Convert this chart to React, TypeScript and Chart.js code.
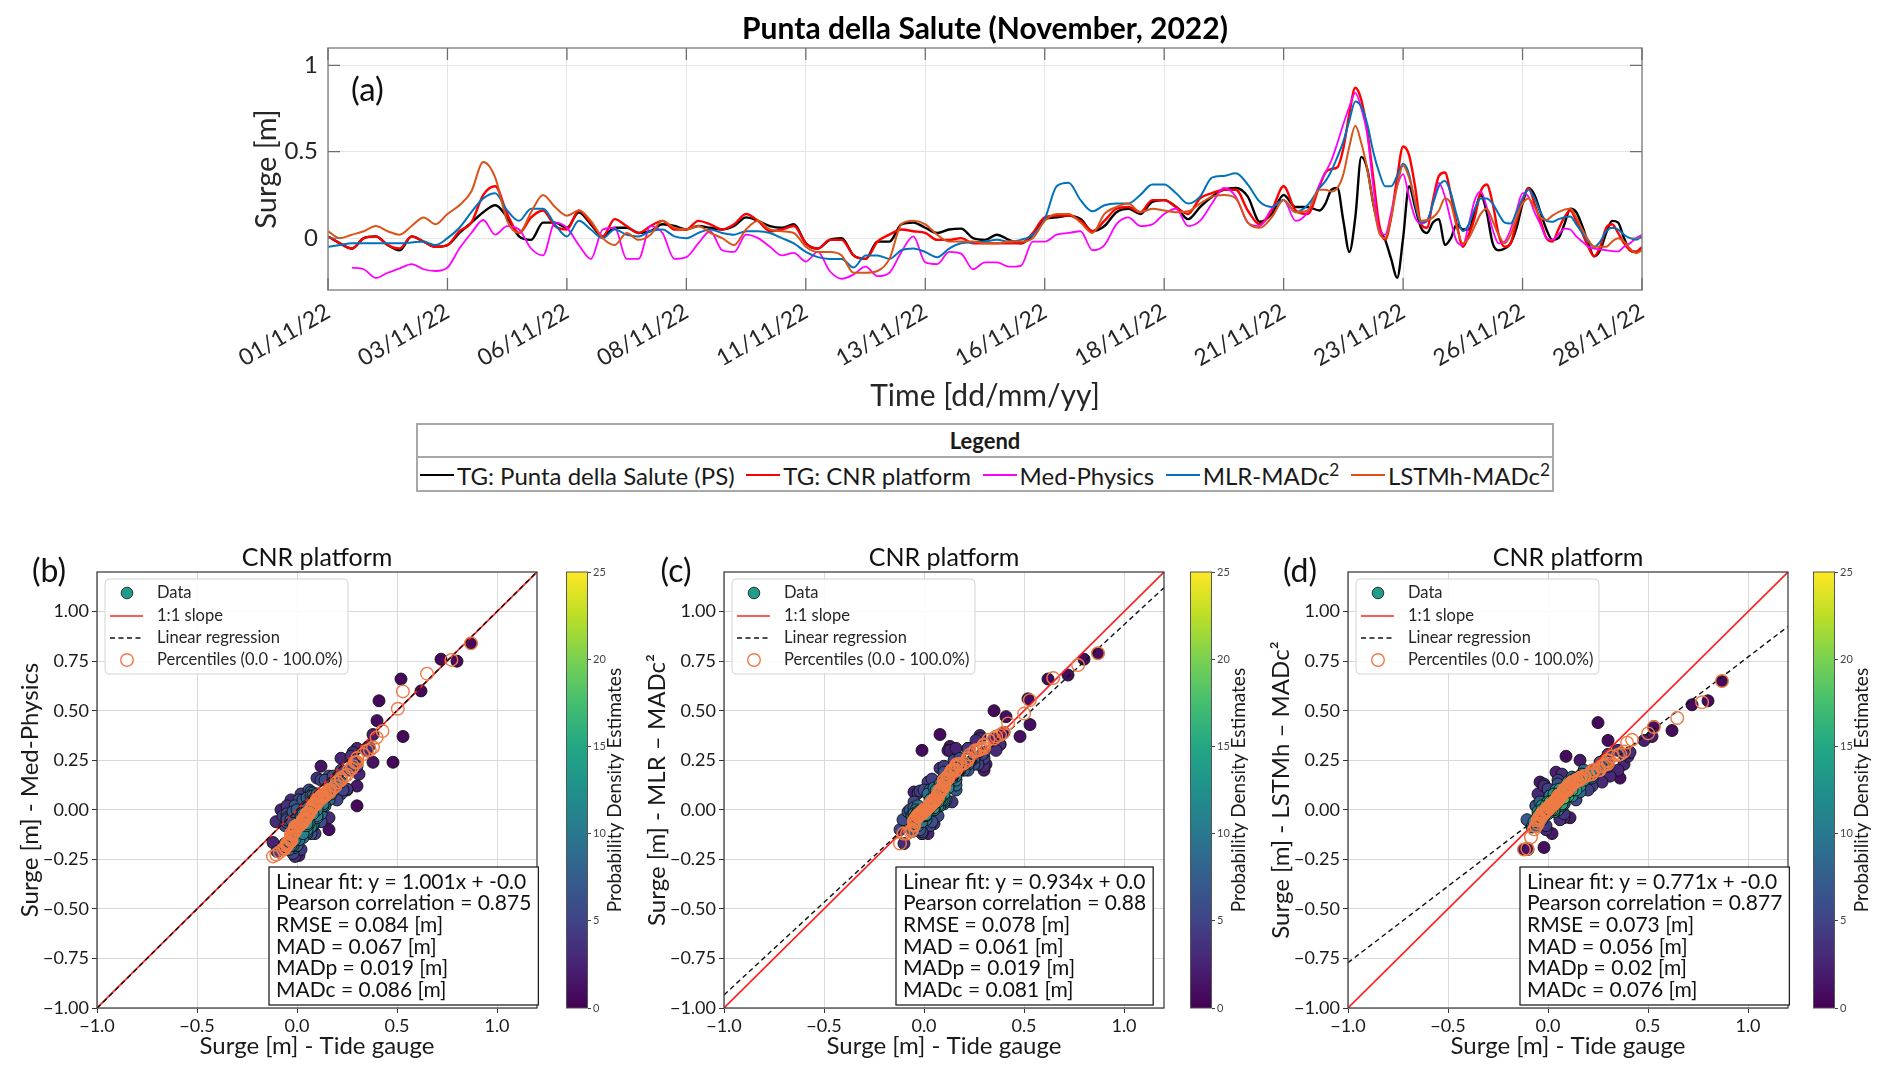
import React, { useEffect, useRef } from "react";
import { Chart, registerables } from "chart.js";

Chart.register(...registerables);

const FONT = "Lato, 'Noto Sans', 'DejaVu Sans', sans-serif";
const TEXT = "#1f1f1f";

// ---------------- data ----------------
// time axis: days since 01/11/2022 00:00 (6-hourly up to day 20.5, 3-hourly afterwards)
const TIME_COARSE = Array.from({ length: 83 }, (_, i) => i * 0.25);
const TIME_FINE = Array.from({ length: 55 }, (_, i) => 20.75 + i * 0.125);
const TIME = [...TIME_COARSE, ...TIME_FINE];

const TG_PS: (number | null)[] = [
  0.01, -0.03, -0.06, 0.0, 0.01, -0.04, -0.07, 0.01, -0.02, -0.05, -0.04, 0.03, 0.09, 0.15, 0.19, 0.12, 0.01, -0.01, 0.09, 0.09,
  0.06, 0.15, 0.08, 0.01, 0.06, 0.06, 0.03, 0.04, 0.08, 0.07, 0.05, 0.07, 0.06, 0.05, 0.07, 0.12, 0.1, 0.07,
  0.06, 0.08, -0.03, -0.06, -0.01, 0.0, -0.1, -0.12, -0.02, -0.02, 0.08, 0.09, 0.06, 0.03, 0.05, 0.055, 0.0, -0.01, 0.02, -0.01,
  -0.03, 0.02, 0.11, 0.12, 0.13, 0.11, 0.04, 0.07, 0.15, 0.17, 0.14, 0.21, 0.22, 0.18, 0.11, 0.18, 0.24,
  0.28, 0.29, 0.24, 0.095, 0.14, 0.25, 0.18, 0.18,
  0.16, 0.2, 0.28, 0.29, 0.1, -0.08, 0.12, 0.47, 0.4, 0.2, 0.06, -0.01, -0.12, -0.23, 0.0, 0.3, 0.18, 0.06, 0.03, 0.09,
  0.11, -0.04, 0.0, 0.08, 0.05, 0.05, 0.15, 0.25, 0.15, -0.03, -0.07, -0.06, -0.03, 0.06, 0.2, 0.29, 0.25, 0.15, 0.05, -0.01,
  0.0, 0.08, 0.17, 0.15, 0.07, -0.03, -0.105, -0.07, 0.03, 0.1, 0.09, 0.0, -0.07, -0.08, -0.06,
];

const TG_CNR: (number | null)[] = [
  0.01, -0.03, -0.06, 0.0, 0.01, -0.04, -0.06, 0.01, -0.02, -0.05, -0.04, 0.04, 0.09, 0.25, 0.3, 0.14, 0.03, 0.12, 0.16, 0.07,
  0.05, 0.16, 0.09, 0.01, 0.11, 0.07, 0.03, 0.07, 0.1, 0.05, 0.05, 0.1, 0.08, 0.05, 0.08, 0.14, 0.1, 0.04,
  0.05, 0.07, -0.03, -0.06, -0.01, -0.01, -0.1, -0.12, -0.02, 0.02, 0.05, 0.04, 0.03, -0.01, -0.01, 0.0, -0.03, -0.03, -0.03, -0.03,
  -0.03, 0.03, 0.12, 0.13, 0.13, 0.1, 0.04, 0.1, 0.17, 0.18, 0.15, 0.22, 0.22, 0.18, 0.14, 0.23, 0.26,
  0.28, 0.28, 0.16, 0.08, 0.16, 0.3, 0.16, 0.14,
  0.3, 0.38, 0.4, 0.41, 0.52, 0.72, 0.87, 0.8, 0.62, 0.35, 0.08, -0.01, 0.12, 0.35, 0.53, 0.48, 0.3, 0.08, 0.06, 0.22,
  0.36, 0.38, 0.25, 0.08, -0.05, 0.02, 0.12, 0.27, 0.31, 0.2, 0.02, -0.05, -0.03, 0.1, 0.22, 0.29, 0.2, 0.1, 0.0, -0.02,
  0.05, 0.12, 0.16, 0.1, 0.03, -0.05, -0.105, -0.05, 0.06, 0.08, 0.03, -0.03, -0.07, -0.08, -0.05,
];

const MED_PHYSICS: (number | null)[] = [
  null, null, -0.17, -0.18, -0.23, -0.2, -0.175, -0.15, -0.18, -0.19, -0.17, -0.06, 0.03, 0.105, 0.02, 0.07, 0.05, -0.06, -0.1, 0.09,
  0.06, -0.04, -0.12, 0.05, 0.06, -0.12, -0.12, 0.07, 0.03, -0.12, -0.11, -0.03, 0.04, -0.07, -0.08, 0.02, 0.0, -0.05,
  -0.1, -0.085, -0.135, -0.08, -0.19, -0.235, -0.21, -0.165, -0.22, -0.2, -0.08, 0.01, -0.14, -0.15, -0.08, -0.09, -0.18, -0.14, -0.14, -0.165,
  -0.16, -0.02, -0.02, 0.02, 0.03, 0.04, -0.07, -0.04, 0.08, 0.12, 0.07, 0.08, 0.14, 0.17, 0.07, 0.1, 0.2,
  0.29, 0.24, 0.09, 0.07, 0.17, 0.22, 0.1, 0.15,
  0.31, 0.38, 0.45, 0.55, 0.66, 0.76, 0.84, 0.75, 0.6, 0.3, 0.05, 0.02, 0.15, 0.3, 0.37, 0.24, 0.12, 0.085, 0.1, 0.2,
  0.32, 0.24, 0.1, -0.02, -0.04, 0.08, 0.22, 0.27, 0.18, 0.05, -0.03, -0.02, 0.05, 0.16, 0.26, 0.24, 0.15, 0.08, 0.0, -0.01,
  0.02, 0.055, 0.05, 0.01, -0.02, -0.05, -0.06, -0.065, -0.07, -0.075, -0.077, -0.05, -0.03, 0.0, 0.02,
];

const MLR_MADC2: (number | null)[] = [
  -0.05, -0.04, -0.03, -0.03, -0.03, -0.03, -0.03, -0.025, -0.02, -0.04, 0.0, 0.06, 0.15, 0.23, 0.26, 0.16, 0.1, 0.17, 0.17, 0.08,
  0.01, 0.1, 0.05, 0.0, 0.05, 0.02, 0.01, 0.04, 0.05, 0.01, 0.0, 0.03, 0.05, 0.03, 0.02, 0.04, 0.04, 0.03,
  0.0, -0.03, -0.08, -0.11, -0.12, -0.12, -0.17, -0.1, -0.1, -0.12, -0.07, -0.06, -0.08, -0.11, -0.06, -0.03, -0.025, -0.02, -0.01, -0.02,
  -0.01, 0.02, 0.11, 0.3, 0.32, 0.22, 0.155, 0.19, 0.2, 0.2, 0.25, 0.31, 0.31, 0.26, 0.2, 0.24, 0.35,
  0.36, 0.375, 0.31, 0.21, 0.18, 0.22, 0.15, 0.19,
  0.29, 0.33, 0.39, 0.47, 0.56, 0.68, 0.79, 0.76, 0.66, 0.5, 0.38, 0.3, 0.3, 0.36, 0.43, 0.37, 0.2, 0.09, 0.1, 0.2,
  0.3, 0.33, 0.26, 0.13, 0.04, 0.08, 0.17, 0.23, 0.23, 0.2, 0.14, 0.09, 0.085, 0.15, 0.23, 0.28, 0.23, 0.15, 0.1, 0.095,
  0.11, 0.12, 0.125, 0.08, 0.03, -0.02, -0.05, -0.02, 0.04, 0.06, 0.05, 0.02, 0.0, -0.01, 0.01,
];

const LSTMH_MADC2: (number | null)[] = [
  0.04, 0.0, 0.02, 0.04, 0.07, 0.04, 0.02, 0.07, 0.12, 0.08, 0.14, 0.19, 0.27, 0.44, 0.35, 0.1, 0.03, 0.15, 0.25, 0.18,
  0.13, 0.16, 0.1, 0.0, -0.04, 0.03, -0.01, 0.02, 0.1, 0.06, 0.05, 0.07, 0.03, 0.0, -0.04, 0.05, 0.1, 0.05,
  0.04, 0.03, -0.05, -0.08, -0.08, -0.1, -0.2, -0.2, -0.19, -0.12, 0.08, 0.1, 0.08, 0.02, -0.02, -0.02, -0.02, -0.03, -0.03, -0.02,
  -0.02, 0.0, 0.1, 0.14, 0.14, 0.09, 0.03, 0.14, 0.18, 0.2, 0.15, 0.17, 0.16, 0.15, 0.155, 0.2, 0.24,
  0.25, 0.23, 0.09, 0.06, 0.12, 0.22, 0.15, 0.16,
  0.28, 0.28, 0.27, 0.29, 0.37, 0.53, 0.65, 0.55, 0.4, 0.2, 0.03, 0.0, 0.12, 0.3, 0.42, 0.35, 0.22, 0.1, 0.105, 0.12,
  0.16, 0.23, 0.2, 0.06, -0.03, 0.0, 0.07, 0.14, 0.17, 0.1, 0.02, -0.03, 0.02, 0.12, 0.2, 0.23, 0.18, 0.12, 0.105, 0.13,
  0.15, 0.165, 0.17, 0.12, 0.05, -0.01, -0.05, -0.05, -0.05, -0.02, 0.0, -0.02, -0.06, -0.087, -0.07,
];

const SERIES_LABELS = ["TG: Punta della Salute (PS)", "TG: CNR platform", "Med-Physics", "MLR-MADc", "LSTMh-MADc"];
const SERIES_SUPS = ["", "", "", "2", "2"];
const SERIES_COLORS = ["#000000", "#ff0000", "#ff00ff", "#0072bd", "#d95319"];

const X_TICK_POS = [0, 2.5, 5, 7.5, 10, 12.5, 15, 17.5, 20, 22.5, 25, 27.5];
const X_TICK_LABELS = ["01/11/22", "03/11/22", "06/11/22", "08/11/22", "11/11/22", "13/11/22", "16/11/22", "18/11/22", "21/11/22", "23/11/22", "26/11/22", "28/11/22"];
const Y_TICKS_A = [0, 0.5, 1];

// scatter panels
const PANEL_LETTERS = ["(b)", "(c)", "(d)"];
const MODEL_SERIES = [MED_PHYSICS, MLR_MADC2, LSTMH_MADC2];
const Y_TITLES = ["Surge [m] - Med-Physics", "Surge [m] - MLR \u2013 MADc\u00b2", "Surge [m] - LSTMh \u2013 MADc\u00b2"];
const SLOPES = [1.001, 0.934, 0.771];
const INTERCEPTS = [-0.0, 0.0, -0.0];
const INTERCEPT_TXT = ["-0.0", "0.0", "-0.0"];
const PEARSON = ["0.875", "0.88", "0.877"];
const RMSE = ["0.084", "0.078", "0.073"];
const MAD = ["0.067", "0.061", "0.056"];
const MADP = ["0.019", "0.019", "0.02"];
const MADC = ["0.086", "0.081", "0.076"];
const SC_X_TICKS = [-1, -0.5, 0, 0.5, 1];
const SC_Y_TICKS = [-1, -0.75, -0.5, -0.25, 0, 0.25, 0.5, 0.75, 1];
const CB_TICKS = [0, 5, 10, 15, 20, 25];
const PERCENTILE_LEVELS = Array.from({ length: 101 }, (_, i) => i);
const SC_LEGEND = ["Data", "1:1 slope", "Linear regression", "Percentiles (0.0 - 100.0%)"];

// ---------------- layout constants ----------------
const AX_MIN = -1;
const AX_MAX = 1.2;
const CB_MIN = 0;
const CB_MAX = 25;
const SC_LEFT = [97, 724, 1348];
const CB_LEFT = [566, 1190, 1813];

// ---------------- helpers ----------------
const VIRIDIS = [
  [68, 1, 84], [72, 35, 116], [64, 67, 135], [52, 94, 141], [41, 120, 142], [32, 144, 140],
  [34, 167, 132], [68, 190, 112], [121, 209, 81], [189, 222, 38], [253, 231, 37],
];
function viridis(t: number): string {
  const v = Math.max(0, Math.min(1, t)) * (VIRIDIS.length - 1);
  const i = Math.min(VIRIDIS.length - 2, Math.floor(v));
  const f = v - i;
  const a = VIRIDIS[i], b = VIRIDIS[i + 1];
  const c = a.map((x, k) => Math.round(x + (b[k] - x) * f));
  return `rgb(${c[0]},${c[1]},${c[2]})`;
}
function fmt(v: number, d: number): string {
  return (v < 0 ? "\u2212" : "") + Math.abs(v).toFixed(d);
}
function kde(xs: number[], ys: number[]): number[] {
  const n = xs.length;
  const mx = xs.reduce((s, v) => s + v, 0) / n;
  const my = ys.reduce((s, v) => s + v, 0) / n;
  let sxx = 0, syy = 0, sxy = 0;
  for (let i = 0; i < n; i++) {
    sxx += (xs[i] - mx) ** 2;
    syy += (ys[i] - my) ** 2;
    sxy += (xs[i] - mx) * (ys[i] - my);
  }
  sxx /= n - 1; syy /= n - 1; sxy /= n - 1;
  const f2 = Math.pow(n, -2 / 6);
  const a = sxx * f2, b = sxy * f2, d = syy * f2;
  const det = a * d - b * b;
  const ia = d / det, ib = -b / det, id = a / det;
  const norm = 1 / (2 * Math.PI * Math.sqrt(det) * n);
  return xs.map((x, i) => {
    let s = 0;
    for (let j = 0; j < n; j++) {
      const dx = x - xs[j], dy = ys[i] - ys[j];
      s += Math.exp(-0.5 * (ia * dx * dx + 2 * ib * dx * dy + id * dy * dy));
    }
    return s * norm;
  });
}
function percentile(sorted: number[], p: number): number {
  const pos = (p / 100) * (sorted.length - 1);
  const lo = Math.floor(pos), hi = Math.ceil(pos);
  return sorted[lo] + (sorted[hi] - sorted[lo]) * (pos - lo);
}
function drawText(ctx: CanvasRenderingContext2D, s: string, x: number, y: number, font: string, align: CanvasTextAlign = "center", baseline: CanvasTextBaseline = "middle", color = TEXT, rot = 0) {
  ctx.save();
  ctx.translate(x, y);
  if (rot) ctx.rotate(rot);
  ctx.font = font;
  ctx.textAlign = align;
  ctx.textBaseline = baseline;
  ctx.fillStyle = color;
  ctx.fillText(s, 0, 0);
  ctx.restore();
}

// ---------------- time series (a) ----------------
const A_W = 1892, A_H = 420;
const A_AREA = { l: 328, r: 1642, t: 48, b: 290 };

function TimeSeriesChart() {
  const ref = useRef<HTMLCanvasElement | null>(null);
  useEffect(() => {
    if (!ref.current) return;
    const all = [TG_PS, TG_CNR, MED_PHYSICS, MLR_MADC2, LSTMH_MADC2];
    const widths = [2.4, 2.4, 1.8, 2.0, 2.0];
    const orders = [5, 4, 3, 2, 1];
    const frame = {
      id: "frameA",
      afterDraw(chart: any) {
        const { ctx, chartArea: a, scales } = chart;
        ctx.save();
        ctx.strokeStyle = "#8a8a8a";
        ctx.lineWidth = 1.5;
        ctx.strokeRect(a.left, a.top, a.right - a.left, a.bottom - a.top);
        ctx.strokeStyle = "#6e6e6e";
        ctx.lineWidth = 1.3;
        ctx.beginPath();
        X_TICK_POS.forEach((v) => {
          const x = scales.x.getPixelForValue(v);
          ctx.moveTo(x, a.bottom); ctx.lineTo(x, a.bottom - 12);
          ctx.moveTo(x, a.top); ctx.lineTo(x, a.top + 12);
        });
        Y_TICKS_A.forEach((v) => {
          const y = scales.y.getPixelForValue(v);
          ctx.moveTo(a.left, y); ctx.lineTo(a.left + 12, y);
          ctx.moveTo(a.right, y); ctx.lineTo(a.right - 12, y);
        });
        ctx.stroke();
        ctx.restore();
        const cx = (a.left + a.right) / 2;
        drawText(ctx, "Punta della Salute (November, 2022)", cx, 39, `bold 30px ${FONT}`, "center", "alphabetic", "#000");
        drawText(ctx, "(a)", a.left + 23, 90, `33px ${FONT}`, "left", "middle", "#111");
        drawText(ctx, "Surge [m]", 267, (a.top + a.bottom) / 2, `29px ${FONT}`, "center", "middle", "#262626", -Math.PI / 2);
        drawText(ctx, "Time [dd/mm/yy]", cx, 396, `30px ${FONT}`, "center", "middle", "#262626");
      },
    };
    const chart = new Chart(ref.current, {
      type: "line",
      data: {
        datasets: all.map((s, k) => ({
          label: SERIES_LABELS[k],
          data: TIME.map((t, i) => ({ x: t, y: s[i] })),
          borderColor: SERIES_COLORS[k],
          backgroundColor: SERIES_COLORS[k],
          borderWidth: widths[k],
          pointRadius: 0,
          tension: 0.4,
          cubicInterpolationMode: "monotone",
          fill: false,
          order: orders[k],
        })) as any,
      },
      options: {
        responsive: false,
        animation: false,
        layout: { padding: { left: 0, top: A_AREA.t, right: A_W - A_AREA.r, bottom: 0 } },
        plugins: { legend: { display: false }, tooltip: { enabled: false }, title: { display: false } },
        scales: {
          x: {
            type: "linear",
            min: 0,
            max: 27.5,
            afterBuildTicks: (s: any) => { s.ticks = X_TICK_POS.map((v) => ({ value: v })); },
            afterFit: (s: any) => { s.height = A_H - A_AREA.b; },
            ticks: {
              autoSkip: false,
              minRotation: 30,
              maxRotation: 30,
              padding: 8,
              color: "#262626",
              font: { family: FONT, size: 23 },
              callback: (v: any) => X_TICK_LABELS[X_TICK_POS.indexOf(Number(v))],
            },
            grid: { color: "#e6e6e6", lineWidth: 1, drawTicks: false },
            border: { display: false },
          },
          y: {
            min: -0.3,
            max: 1.1,
            afterBuildTicks: (s: any) => { s.ticks = Y_TICKS_A.map((v) => ({ value: v })); },
            afterFit: (s: any) => { s.width = A_AREA.l; },
            ticks: { padding: 10, color: "#262626", font: { family: FONT, size: 24 }, callback: (v: any) => String(v) },
            grid: { color: "#e6e6e6", lineWidth: 1, drawTicks: false },
            border: { display: false },
          },
        },
      } as any,
      plugins: [frame],
    });
    return () => chart.destroy();
  }, []);
  return <canvas ref={ref} width={A_W} height={A_H} style={{ position: "absolute", left: 0, top: 0, width: A_W, height: A_H }} />;
}

function LegendBox() {
  return (
    <div
      style={{
        position: "absolute", left: 416, top: 423, width: 1138, height: 69, boxSizing: "border-box",
        border: "2px solid #a8a8a8", background: "#fff", fontFamily: FONT, color: "#1a1a1a",
      }}
    >
      <div style={{ height: 31, borderBottom: "2px solid #a8a8a8", display: "flex", alignItems: "center", justifyContent: "center", fontWeight: 700, fontSize: 22 }}>
        Legend
      </div>
      <div style={{ height: 34, display: "flex", alignItems: "center", justifyContent: "space-between", padding: "0 2px", fontSize: 24, whiteSpace: "nowrap" }}>
        {SERIES_LABELS.map((l, k) => (
          <div key={k} style={{ display: "flex", alignItems: "center" }}>
            <span style={{ display: "inline-block", width: 34, height: 0, borderTop: `2.5px solid ${SERIES_COLORS[k]}`, marginRight: 3 }} />
            <span>
              {l}
              {SERIES_SUPS[k] ? <sup style={{ fontSize: "0.72em", verticalAlign: "0.55em", lineHeight: 0 }}>{SERIES_SUPS[k]}</sup> : null}
            </span>
          </div>
        ))}
      </div>
    </div>
  );
}

// ---------------- scatter panels ----------------
const SC_CANVAS_TOP = 520, SC_CANVAS_H = 558;
const SC_AREA_TOP = 572, SC_AREA_BOTTOM = 1008, SC_AREA_W = 440, SC_Y_AXIS_W = 97, SC_PAD_R = 24;

function ScatterPanel({ idx }: { idx: number }) {
  const ref = useRef<HTMLCanvasElement | null>(null);
  useEffect(() => {
    if (!ref.current) return;
    const model = MODEL_SERIES[idx];
    const xs: number[] = [], ys: number[] = [];
    TG_CNR.forEach((v, i) => {
      const m = model[i];
      if (v !== null && v !== undefined && m !== null && m !== undefined) { xs.push(v); ys.push(m); }
    });
    const dens = kde(xs, ys);
    const pts = xs.map((x, i) => ({ x, y: ys[i], d: dens[i] })).sort((p, q) => p.d - q.d);
    const sx = [...xs].sort((a, b) => a - b), sy = [...ys].sort((a, b) => a - b);
    const pct = PERCENTILE_LEVELS.map((p) => ({ x: percentile(sx, p), y: percentile(sy, p) }));
    const slope = SLOPES[idx], icpt = INTERCEPTS[idx];

    const decor = {
      id: "decor" + idx,
      afterDraw(chart: any) {
        const { ctx, chartArea: a } = chart;
        ctx.save();
        ctx.strokeStyle = "#333";
        ctx.lineWidth = 1.2;
        ctx.strokeRect(a.left, a.top, a.right - a.left, a.bottom - a.top);

        // legend
        const lx = a.left + 8, ly = a.top + 7, lw = 243, lh = 95;
        ctx.fillStyle = "rgba(255,255,255,0.85)";
        ctx.strokeStyle = "#d4d4d4";
        ctx.lineWidth = 1;
        ctx.beginPath();
        (ctx as any).roundRect(lx, ly, lw, lh, 4);
        ctx.fill();
        ctx.stroke();
        const rows = [ly + 14, ly + 37, ly + 59, ly + 81];
        ctx.beginPath();
        ctx.arc(lx + 22, rows[0], 5.8, 0, Math.PI * 2);
        ctx.fillStyle = viridis(0.55);
        ctx.fill();
        ctx.strokeStyle = "#111";
        ctx.lineWidth = 0.8;
        ctx.stroke();
        ctx.beginPath();
        ctx.strokeStyle = "#ff2020";
        ctx.lineWidth = 1.6;
        ctx.moveTo(lx + 5, rows[1]); ctx.lineTo(lx + 38, rows[1]);
        ctx.stroke();
        ctx.beginPath();
        ctx.setLineDash([5, 3.5]);
        ctx.strokeStyle = "#111";
        ctx.lineWidth = 1.4;
        ctx.moveTo(lx + 5, rows[2]); ctx.lineTo(lx + 38, rows[2]);
        ctx.stroke();
        ctx.setLineDash([]);
        ctx.beginPath();
        ctx.arc(lx + 22, rows[3], 6.3, 0, Math.PI * 2);
        ctx.strokeStyle = "#ef7a45";
        ctx.lineWidth = 1.4;
        ctx.stroke();
        SC_LEGEND.forEach((t, k) => drawText(ctx, t, lx + 52, rows[k], `16.5px ${FONT}`, "left", "middle", "#262626"));

        // stats box
        const lines = [
          `Linear fit: y = ${SLOPES[idx].toFixed(3)}x + ${INTERCEPT_TXT[idx]}`,
          `Pearson correlation = ${PEARSON[idx]}`,
          `RMSE = ${RMSE[idx]} [m]`,
          `MAD = ${MAD[idx]} [m]`,
          `MADp = ${MADP[idx]} [m]`,
          `MADc = ${MADC[idx]} [m]`,
        ];
        ctx.font = `21px ${FONT}`;
        const bw = Math.max(...lines.map((l) => ctx.measureText(l).width)) + 14;
        const bh = 138;
        const bx = a.left + 172, by = a.bottom - 3 - bh;
        ctx.fillStyle = "#fff";
        ctx.fillRect(bx, by, bw, bh);
        ctx.strokeStyle = "#222";
        ctx.lineWidth = 1.3;
        ctx.strokeRect(bx, by, bw, bh);
        lines.forEach((l, k) => drawText(ctx, l, bx + 7, by + 15 + k * 21.6, `21px ${FONT}`, "left", "middle", "#111"));
        ctx.restore();

        const cx = (a.left + a.right) / 2;
        drawText(ctx, "CNR platform", cx, a.top - 6, `25px ${FONT}`, "center", "alphabetic", "#111");
        drawText(ctx, PANEL_LETTERS[idx], a.left - 48, a.top + 10, `32px ${FONT}`, "center", "alphabetic", "#111");
        drawText(ctx, Y_TITLES[idx], a.left - 67, (a.top + a.bottom) / 2, `24px ${FONT}`, "center", "middle", "#1a1a1a", -Math.PI / 2);
        drawText(ctx, "Surge [m] - Tide gauge", cx, a.bottom + 38, `24px ${FONT}`, "center", "middle", "#1a1a1a");
      },
    };

    const chart = new Chart(ref.current, {
      type: "scatter",
      data: {
        datasets: [
          {
            data: pts.map((p) => ({ x: p.x, y: p.y })),
            pointRadius: 6,
            pointBackgroundColor: pts.map((p) => viridis(p.d / CB_MAX)),
            pointBorderColor: "#111",
            pointBorderWidth: 0.9,
            order: 4,
          },
          {
            data: [{ x: AX_MIN, y: AX_MIN }, { x: AX_MAX, y: AX_MAX }],
            showLine: true, borderColor: "#ff2020", borderWidth: 1.6, pointRadius: 0, order: 3,
          },
          {
            data: [{ x: AX_MIN, y: slope * AX_MIN + icpt }, { x: AX_MAX, y: slope * AX_MAX + icpt }],
            showLine: true, borderColor: "#111", borderWidth: 1.4, borderDash: [5, 3.5], pointRadius: 0, order: 2,
          },
          {
            data: pct,
            pointRadius: 6.3, pointBackgroundColor: "rgba(0,0,0,0)", pointBorderColor: "#ef7a45", pointBorderWidth: 1.4, order: 1,
          },
        ] as any,
      },
      options: {
        responsive: false,
        animation: false,
        layout: { padding: { top: SC_AREA_TOP - SC_CANVAS_TOP, right: SC_PAD_R, bottom: 0, left: 0 } },
        plugins: { legend: { display: false }, tooltip: { enabled: false } },
        scales: {
          x: {
            type: "linear", min: AX_MIN, max: AX_MAX,
            afterBuildTicks: (s: any) => { s.ticks = SC_X_TICKS.map((v) => ({ value: v })); },
            afterFit: (s: any) => { s.height = SC_CANVAS_TOP + SC_CANVAS_H - SC_AREA_BOTTOM; },
            ticks: { padding: 2, color: "#1a1a1a", font: { family: FONT, size: 18 }, callback: (v: any) => fmt(Number(v), 1) },
            grid: { color: "#d9d9d9", lineWidth: 1, tickLength: 5, tickColor: "#333", tickWidth: 1 },
            border: { display: false },
          },
          y: {
            type: "linear", min: AX_MIN, max: AX_MAX,
            afterBuildTicks: (s: any) => { s.ticks = SC_Y_TICKS.map((v) => ({ value: v })); },
            afterFit: (s: any) => { s.width = SC_Y_AXIS_W; },
            ticks: { padding: 3, color: "#1a1a1a", font: { family: FONT, size: 18 }, callback: (v: any) => fmt(Number(v), 2) },
            grid: { color: "#d9d9d9", lineWidth: 1, tickLength: 5, tickColor: "#333", tickWidth: 1 },
            border: { display: false },
          },
        },
      } as any,
      plugins: [decor],
    });
    return () => chart.destroy();
  }, [idx]);
  const w = SC_Y_AXIS_W + SC_AREA_W + SC_PAD_R;
  return (
    <canvas
      ref={ref}
      width={w}
      height={SC_CANVAS_H}
      style={{ position: "absolute", left: SC_LEFT[idx] - SC_Y_AXIS_W, top: SC_CANVAS_TOP, width: w, height: SC_CANVAS_H }}
    />
  );
}

const CB_W = 62, CB_BAR_W = 22, CB_TOP = 562, CB_H = 456;

function ColorBar({ idx }: { idx: number }) {
  const ref = useRef<HTMLCanvasElement | null>(null);
  useEffect(() => {
    if (!ref.current) return;
    const plug = {
      id: "cb" + idx,
      afterDraw(chart: any) {
        const { ctx, chartArea: a } = chart;
        ctx.save();
        const g = ctx.createLinearGradient(0, a.bottom, 0, a.top);
        VIRIDIS.forEach((_, k) => g.addColorStop(k / (VIRIDIS.length - 1), viridis(k / (VIRIDIS.length - 1))));
        ctx.fillStyle = g;
        ctx.fillRect(a.left, a.top, a.right - a.left, a.bottom - a.top);
        ctx.strokeStyle = "#555";
        ctx.lineWidth = 1;
        ctx.strokeRect(a.left + 0.5, a.top, a.right - a.left - 1, a.bottom - a.top);
        ctx.restore();
        drawText(ctx, "Probability Density Estimates", a.right + 27, (a.top + a.bottom) / 2, `19px ${FONT}`, "center", "middle", "#1a1a1a", -Math.PI / 2);
      },
    };
    const chart = new Chart(ref.current, {
      type: "scatter",
      data: { datasets: [] },
      options: {
        responsive: false,
        animation: false,
        layout: { padding: { top: 10, bottom: 10, left: 0, right: 0 } },
        plugins: { legend: { display: false }, tooltip: { enabled: false } },
        scales: {
          x: { display: false, min: 0, max: 1 },
          y: {
            position: "right", min: CB_MIN, max: CB_MAX,
            afterBuildTicks: (s: any) => { s.ticks = CB_TICKS.map((v) => ({ value: v })); },
            afterFit: (s: any) => { s.width = CB_W - CB_BAR_W; },
            ticks: { padding: 2, color: "#444", font: { family: FONT, size: 11 } },
            grid: { drawOnChartArea: false, tickLength: 3, tickColor: "#444" },
            border: { display: false },
          },
        },
      } as any,
      plugins: [plug],
    });
    return () => chart.destroy();
  }, [idx]);
  return (
    <canvas ref={ref} width={CB_W} height={CB_H} style={{ position: "absolute", left: CB_LEFT[idx], top: CB_TOP, width: CB_W, height: CB_H }} />
  );
}

export default function App() {
  return (
    <div style={{ position: "absolute", left: 0, top: 0, width: 1892, height: 1078, background: "#fff", overflow: "hidden", fontFamily: FONT }}>
      <TimeSeriesChart />
      <LegendBox />
      {[0, 1, 2].map((i) => (
        <ScatterPanel key={"s" + i} idx={i} />
      ))}
      {[0, 1, 2].map((i) => (
        <ColorBar key={"c" + i} idx={i} />
      ))}
    </div>
  );
}
